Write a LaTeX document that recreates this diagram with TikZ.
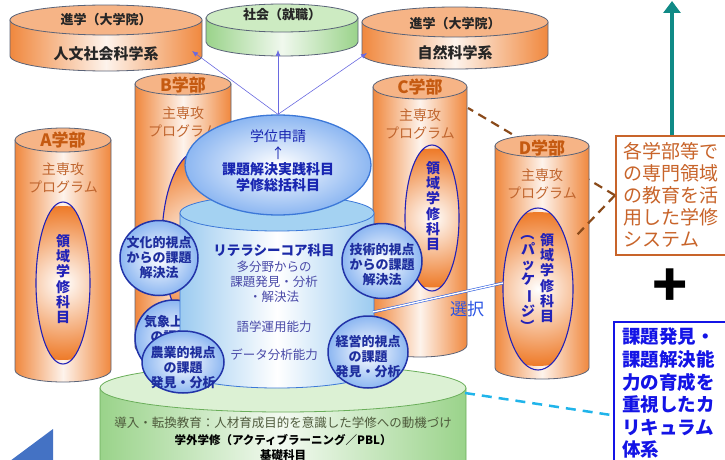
\documentclass[tikz,border=0pt]{standalone}
\usepackage{fontspec}
\setmainfont{Noto Sans CJK JP}
\usepackage{xcolor}
\usepackage{tikz}
\usetikzlibrary{arrows.meta,shapes.geometric}

\definecolor{orEdge}{HTML}{F0883E}
\definecolor{orTop}{HTML}{F6B486}
\definecolor{orCore}{HTML}{EE7A28}
\definecolor{cylLine}{HTML}{5A6378}
\definecolor{gakubuText}{HTML}{C55A11}
\definecolor{progText}{HTML}{C0652E}
\definecolor{ryoikiBlue}{HTML}{2222B8}
\definecolor{grEdge}{HTML}{9AD38A}
\definecolor{grTop}{HTML}{CDEBC2}
\definecolor{grLine}{HTML}{6AAE5A}
\definecolor{blEdge}{HTML}{9CCBF0}
\definecolor{blTop}{HTML}{A4D2F2}
\definecolor{blLine}{HTML}{3C78D8}
\definecolor{bubLine}{HTML}{2233A8}
\definecolor{bubText}{HTML}{1E2E9E}
\definecolor{coreText}{HTML}{4A4AA8}
\definecolor{arrowBlue}{HTML}{6A6AE0}
\definecolor{tealArrow}{HTML}{108A86}
\definecolor{brownDash}{HTML}{8A4A1A}
\definecolor{boxOrange}{HTML}{C8642A}
\definecolor{boxBlue}{HTML}{1414E6}
\definecolor{cyanDash}{HTML}{20B4EA}
\definecolor{triBlue}{HTML}{4472C4}
\definecolor{kisoText}{HTML}{4E5A3C}

\newcommand{\cyl}[7]{%
  \path [#6] (#1-#4,#2) -- (#1-#4,#3) arc [start angle=180, end angle=360, x radius=#4pt, y radius=#5pt] -- (#1+#4,#2) -- cycle;
  \path [#7] (#1,#2) ellipse [x radius=#4pt, y radius=#5pt];
}
\newcommand{\ryoikiell}[4]{%
  \begin{scope}
    \clip (#1,#2) ellipse [x radius=#3pt, y radius=#4pt];
    \shade [inner color=white, outer color=orCore] (#1,#2) circle [radius=0.95*#4pt];
  \end{scope}
  \draw [draw=ryoikiBlue, line width=1.1pt] (#1,#2) ellipse [x radius=#3pt, y radius=#4pt];
}

\tikzset{
  orbody/.style={left color=orEdge, right color=orEdge, middle color=orEdge!10!white, draw=cylLine, line width=0.8pt},
  ortop/.style={fill=orTop, draw=cylLine, line width=0.8pt},
  grbody/.style={left color=grEdge, right color=grEdge, middle color=grEdge!15!white, draw=cylLine, line width=0.8pt},
  grtop/.style={fill=grTop, draw=cylLine, line width=0.8pt},
  kisobody/.style={left color=grEdge, right color=grEdge, middle color=grEdge!12!white, draw=grLine, line width=0.8pt},
  kisotop/.style={fill=grTop!70!white, draw=grLine, line width=0.8pt},
  blbody/.style={left color=blEdge, right color=blEdge, middle color=white, draw=blLine, line width=0.8pt},
  bltop/.style={fill=blTop, draw=blLine, line width=0.8pt},
  toptext/.style={font=\bfseries\fontsize{13}{15}\selectfont, text=black!85},
  subjtext/.style={font=\bfseries\fontsize{15}{17}\selectfont, text=black!85},
  gakubu/.style={font=\bfseries\fontsize{17}{18}\selectfont, text=gakubuText},
  prog/.style={font=\fontsize{14}{18}\selectfont, text=progText, align=center},
  ryoiki/.style={font=\bfseries\fontsize{14}{15.2}\selectfont, text=ryoikiBlue, align=center},
  bubble/.style={ellipse, draw=bubLine, line width=1.5pt, inner color=white, outer color=blEdge!90!blue, inner sep=0pt},
  bubbletext/.style={font=\bfseries\fontsize{13}{15}\selectfont, text=bubText, align=center},
  coretitle/.style={font=\bfseries\fontsize{13.5}{15}\selectfont, text=bubText!90!blue},
  coretext/.style={font=\fontsize{12.5}{15}\selectfont, text=coreText, align=center},
  gakuitext/.style={font=\fontsize{14}{16.3}\selectfont, text=bubText!80!blue, align=center},
  bluearrow/.style={draw=arrowBlue, line width=0.6pt, -{Latex[length=6pt,width=5pt]}},
  tealarrow/.style={draw=tealArrow, line width=4.5pt, -{Triangle[width=17pt,length=12pt]}},
  browndash/.style={draw=brownDash, line width=2.2pt, dash pattern=on 9pt off 6pt},
  cyandash/.style={draw=cyanDash, line width=2.5pt, dash pattern=on 10pt off 7pt},
  sysbox/.style={draw=boxOrange, line width=1.6pt, fill=white, text=boxOrange, font=\fontsize{19}{22}\selectfont, align=left, text width=100pt, inner xsep=8pt, inner ysep=7pt},
  kadaibox/.style={draw=boxBlue, line width=2pt, fill=white, text=boxBlue, font=\bfseries\fontsize{18.5}{22.6}\selectfont, align=left, text width=105pt, inner xsep=8pt, inner ysep=6pt},
  kisotext/.style={font=\fontsize{12.5}{14}\selectfont, text=kisoText},
  kisobold/.style={font=\bfseries\fontsize{11.5}{14}\selectfont, text=black}
}

\begin{document}
\begin{tikzpicture}[x=1pt, y=-1pt]
\useasboundingbox (0,0) rectangle (725,460);

\cyl{106}{20}{56}{96}{15}{orbody}{ortop}
\cyl{282}{18}{42}{76}{14}{grbody}{grtop}
\cyl{455}{22}{54}{93}{15}{orbody}{ortop}
\node [toptext] (shingakua) at (106,20) {進学（大学院）};
\node [subjtext] (jinbun) at (106,54) {人文社会科学系};
\node [toptext] (shakai) at (282,15) {社会（就職）};
\node [toptext] (shingakub) at (455,24) {進学（大学院）};
\node [subjtext] (shizen) at (455,53) {自然科学系};
\coordinate (jinbunpt) at (192,51);
\coordinate (shakaipt) at (278,50);
\coordinate (shizenpt) at (367,53);

\cyl{63}{140}{370}{48}{12}{orbody}{ortop}
\ryoikiell{63}{283}{27}{81}
\node [gakubu] (agakubu) at (63,140) {A学部};
\node [prog] (aprog) at (63,178) {主専攻\\プログラム};
\node [ryoiki] (aryoiki) at (63,279) {領\\域\\学\\修\\科\\目};

\cyl{183}{84}{347}{48}{11}{orbody}{ortop}
\ryoikiell{200}{240}{38}{90}
\node [gakubu] (bgakubu) at (183,85) {B学部};
\node [prog] (bprog) at (183,122) {主専攻\\プログラム};

\cyl{420}{87}{345}{47}{12}{orbody}{ortop}
\ryoikiell{432}{218}{27}{73}
\node [gakubu] (cgakubu) at (420,87) {C学部};
\node [prog] (cprog) at (420,124) {主専攻\\プログラム};
\node [ryoiki] (cryoiki) at (433,206) {領\\域\\学\\修\\科\\目};
\coordinate (cright) at (468,108);

\node [sysbox, anchor=north west] (kakugakubu) at (615,135) {各学部等で\\の専門領域\\の教育を活\\用した学修\\システム};
\draw [browndash] (kakugakubu.west) -- (cright);

\cyl{542}{146}{368}{47}{11}{orbody}{ortop}
\ryoikiell{538}{289}{35}{81}
\node [gakubu] (dgakubu) at (542,148) {D学部};
\node [prog] (dprog) at (542,184) {主専攻\\プログラム};
\node [ryoiki] (dryoiki) at (547,278) {領\\域\\学\\修\\科\\目};
\node [ryoiki] (dpack) at (528,280) {\rotatebox[origin=c]{-90}{（}\\パ\\ッ\\ケ\\\rotatebox[origin=c]{-90}{ー}\\ジ\\\rotatebox[origin=c]{-90}{）}};
\coordinate (dright) at (576,236);
\draw [browndash] (kakugakubu.west) -- (dright);

\coordinate (tealtop) at (672,1);
\draw [tealarrow] (kakugakubu.north -| tealtop) -- (tealtop);
\node [font=\bfseries\fontsize{58}{58}\selectfont] (plus) at (670,288) {+};
\node [kadaibox, anchor=north west] (kadai) at (613,321) {課題発見・\\課題解決能\\力の育成を\\重視したカ\\リキュラム\\体系};

\cyl{283}{388}{490}{183}{24}{kisobody}{kisotop}
\node [kisotext] (donyu) at (283,423) {導入・転換教育：人材育成目的を意識した学修への動機づけ};
\node [kisobold] (gakugai) at (283,440) {学外学修（アクティブラーニング／PBL）};
\node [kisobold] (kiso) at (283,455) {基礎科目};
\coordinate (kisoright) at (465,393);
\coordinate (kadaileft) at (611,415);

\node [bubble, minimum width=78pt, minimum height=76pt] (kisho) at (174,338) {};
\node [bubbletext] (kishotext) at (170,329) {気象上の\\の課題};

\cyl{277}{213}{370}{97}{18}{blbody}{bltop}
\node [coretitle] (literacy) at (274,250) {リテラシーコア科目};
\node [coretext] (tabunya) at (274,282) {多分野からの\\課題発見・分析\\・解決法};
\node [coretext] (gogaku) at (274,327) {語学運用能力};
\node [coretext] (data) at (274,355) {データ分析能力};

\node [ellipse, minimum width=186pt, minimum height=100pt, inner color=white, outer color=blEdge!90!blue, draw=blLine, line width=1.3pt] (gakui) at (278,165) {};
\node [gakuitext] (gakuitxt) at (278,161) {学位申請\\↑\\\textbf{課題解決実践科目}\\\textbf{学修総括科目}};
\draw [bluearrow] (gakui.north) -- (jinbunpt);
\draw [bluearrow] (gakui.north) -- (shakaipt);
\draw [bluearrow] (gakui.north) -- (shizenpt);

\node [bubble, minimum width=78pt, minimum height=75pt] (bunka) at (159,258) {};
\node [bubbletext] (bunkatext) at (bunka) {文化的視点\\からの課題\\解決法};
\node [bubble, minimum width=80pt, minimum height=75pt] (gijutsu) at (382,261) {};
\node [bubbletext] (gijutsutext) at (382,265) {技術的視点\\からの課題\\解決法};
\node [bubble, minimum width=82pt, minimum height=62pt] (nogyo) at (183,362) {};
\node [bubbletext] (nogyotext) at (183,368) {農業的視点\\の課題\\発見・分析};
\node [bubble, minimum width=80pt, minimum height=72pt] (keiei) at (368,352) {};
\node [bubbletext] (keieitext) at (368,357) {経営的視点\\の課題\\発見・分析};

\coordinate (senleft) at (373,312);
\coordinate (senright) at (503,283);
\draw [draw=blLine!80!blue, line width=0.6pt, double=white, double distance=1.4pt] (senleft) -- (senright);
\node [font=\fontsize{17}{18}\selectfont, text=blLine!70!blue] (sentaku) at (467,309) {選択};

\draw [cyandash] (kisoright) -- (kadaileft);
\fill [triBlue] (10,461) -- (53,429) -- (53,461) -- cycle;
\end{tikzpicture}
\end{document}
